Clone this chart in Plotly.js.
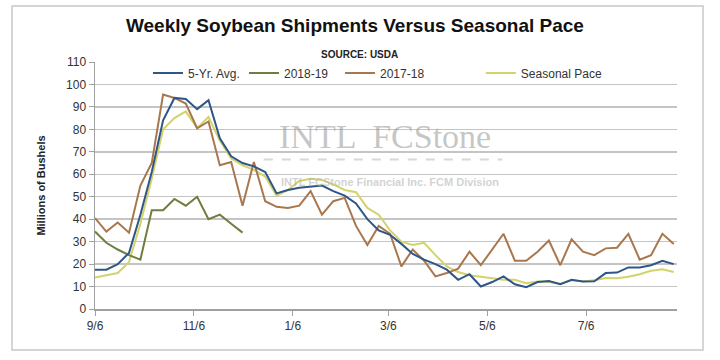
<!DOCTYPE html>
<html><head><meta charset="utf-8">
<script src="https://cdn.plot.ly/plotly-3.0.1.min.js"></script>
<style>html,body{margin:0;padding:0;background:#fff}#chart{width:720px;height:360px}</style>
</head><body><div id="chart"></div>
<script>
const weeks = ['2018-09-06','2018-09-13','2018-09-20','2018-09-27','2018-10-04','2018-10-11','2018-10-18','2018-10-25',
  '2018-11-01','2018-11-08','2018-11-15','2018-11-22','2018-11-29','2018-12-06','2018-12-13','2018-12-20','2018-12-27',
  '2019-01-03','2019-01-10','2019-01-17','2019-01-24','2019-01-31','2019-02-07','2019-02-14','2019-02-21','2019-02-28',
  '2019-03-07','2019-03-14','2019-03-21','2019-03-28','2019-04-04','2019-04-11','2019-04-18','2019-04-25',
  '2019-05-02','2019-05-09','2019-05-16','2019-05-23','2019-05-30','2019-06-06','2019-06-13','2019-06-20','2019-06-27',
  '2019-07-04','2019-07-11','2019-07-18','2019-07-25','2019-08-01','2019-08-08','2019-08-15','2019-08-22','2019-08-29'];
const avg5 = [17.5,17.5,20,25,42,61,84,94,93.5,89,93,76,68,65,63.5,61,51.5,53,54,54.5,55,52.5,50.5,47,40,35,
  33,29,24.5,22,20,17.5,13,15.5,10,12,14.5,11,9.7,12,12.5,11,13,12.2,12.3,16,16.2,18.5,18.5,19.5,21.5,20];
const y1819 = [34.5,29.5,26.5,24,22,44,44,49,46,50,40,42,38,34];
const y1718 = [40.5,34.5,38.5,34,55,65,95.5,94,91.5,80.5,83.5,64,65.5,46,65.5,48,45.5,45,46,52.5,42,48,49.5,37,28.5,37,
  33.5,19,26.5,21.5,14.5,16,18,25.5,19.5,26.5,33.5,21.5,21.5,25.5,30.5,19.5,31,25.5,24,27,27.3,33.5,22,24,33.5,29];
const seasonal = [14,15,16,21,38,58,80,85,88,80.5,85.5,75,67,64,62,59,50.5,53,57,58,57.5,55.5,53,52,45,42,
  35,30,28.5,29.5,24,19,16.5,15,14.5,13.7,13,13,11.5,12.2,12,11.2,12.8,12.3,12.8,13.8,13.7,14.4,15.5,17,17.7,16.5];
const tickDates = ['2018-09-06','2018-11-06','2019-01-06','2019-03-06','2019-05-06','2019-07-06'];
const tickLabels = ['9/6','11/6','1/6','3/6','5/6','7/6'];
const yTicks = [0,10,20,30,40,50,60,70,80,90,100,110];

const FONT = 'Liberation Sans, Arial, sans-serif';
function tr(y, name, color, leg){
  return {x: weeks.slice(0, y.length), y: y, name: name, type: 'scatter', mode: 'lines',
    line: {color: color, width: 2}, legend: leg, showlegend: true, hoverinfo: 'skip'};
}
const data = [
  tr(seasonal, 'Seasonal Pace', '#d2d36a', 'legend4'),
  tr(y1718, '2017-18', '#a8774d', 'legend3'),
  tr(y1819, '2018-19', '#6f7d3e', 'legend2'),
  tr(avg5, '5-Yr. Avg.', '#2f5687', 'legend')
];
function leg(x){
  return {x: x, y: 0.955, xanchor: 'left', yanchor: 'middle', orientation: 'h', visible: true,
    bgcolor: 'rgba(0,0,0,0)', font: {family: FONT, size: 12, color: '#333'}};
}
const layout = {
  width: 720, height: 360,
  showlegend: true,
  margin: {l: 95, r: 43, t: 62, b: 51},
  paper_bgcolor: '#fff', plot_bgcolor: '#fff',
  font: {family: FONT, color: '#333'},
  title: {text: '<b>Weekly Soybean Shipments Versus Seasonal Pace</b>', x: 0.493, xanchor: 'center',
    y: 0.93, yanchor: 'middle', yref: 'container', font: {family: FONT, size: 19, color: '#111'}},
  xaxis: {type: 'date', range: ['2018-09-06', '2019-08-31'], tickmode: 'array', tickvals: tickDates,
    ticktext: tickLabels, showgrid: false, zeroline: false, showline: true, linecolor: '#a0a0a0', linewidth: 1.5,
    ticks: 'outside', ticklen: 5, tickcolor: '#a0a0a0', tickfont: {family: FONT, size: 12, color: '#333'}},
  yaxis: {range: [0, 110], tickmode: 'array', tickvals: yTicks, showgrid: true, gridcolor: '#c4c4c4', gridwidth: 1.5,
    zeroline: false, showline: true, linecolor: '#a0a0a0', linewidth: 1.5, ticks: 'outside', ticklen: 5,
    tickcolor: '#a0a0a0', tickfont: {family: FONT, size: 12, color: '#333'},
    title: {text: '<b>Millions of Bushels</b>', standoff: 18, font: {family: FONT, size: 11, color: '#222'}}},
  legend: leg(0.091), legend2: leg(0.256), legend3: leg(0.421), legend4: leg(0.663),
  annotations: [
    {text: '<b>SOURCE: USDA</b>', xref: 'paper', yref: 'paper', x: 0.455, y: 1.061, showarrow: false,
      font: {family: FONT, size: 10, color: '#222'}},
    {text: 'INTL  FCStone', xref: 'paper', yref: 'paper', x: 0.498, y: 0.70, yanchor: 'middle', showarrow: false,
      font: {family: 'Liberation Serif, DejaVu Serif, serif', size: 34, color: 'rgba(160,160,160,0.6)'}},
    {text: '<b>INTL FCStone Financial Inc. FCM Division</b>', xref: 'paper', yref: 'paper', x: 0.507, y: 0.515,
      yanchor: 'middle', showarrow: false, font: {family: FONT, size: 11, color: 'rgba(180,180,180,0.6)'}}
  ],
  shapes: [
    {type: 'rect', xref: 'paper', yref: 'paper', x0: -0.1426, x1: 1.0447, y0: -0.166, y1: 1.2267,
      line: {color: '#c8c8c8', width: 1.5}, fillcolor: 'rgba(0,0,0,0)', layer: 'below'},
    {type: 'line', xref: 'paper', yref: 'paper', x0: 0.29, x1: 0.70, y0: 0.605, y1: 0.605,
      line: {color: 'rgba(190,190,190,0.6)', width: 2, dash: 'dash'}}
  ]
};
Plotly.newPlot('chart', data, layout, {displayModeBar: false, staticPlot: true});
</script>
</body></html>
